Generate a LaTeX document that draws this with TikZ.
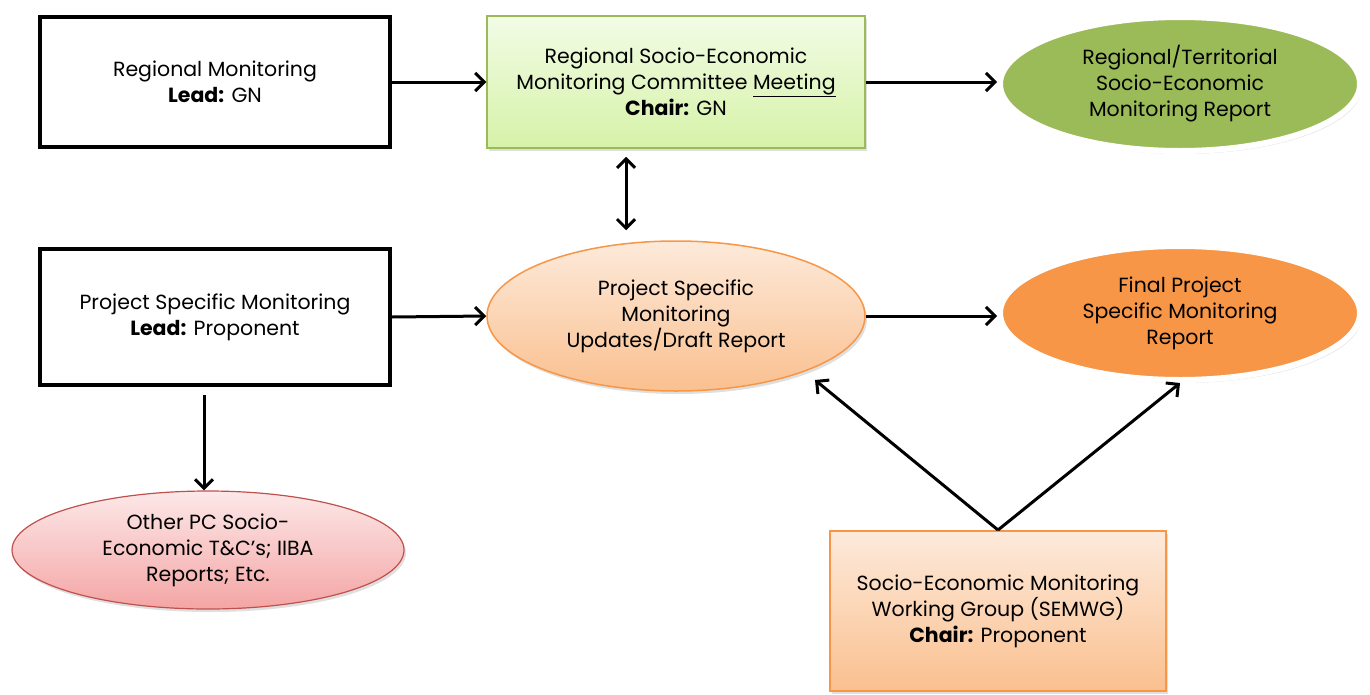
\documentclass[tikz,border=0pt]{standalone}
\usepackage{fontspec}
\setmainfont{Poppins}
\usepackage{tikz}
\usetikzlibrary{arrows.meta,positioning,calc,shapes.geometric,shadows}
\definecolor{MeetTop}{HTML}{F2FCE6}
\definecolor{MeetBottom}{HTML}{D6F2A8}
\definecolor{MeetLine}{HTML}{9BBB59}
\definecolor{RegGreen}{HTML}{9BBB59}
\definecolor{PeachTop}{HTML}{FDEADB}
\definecolor{PeachBottom}{HTML}{FAC08F}
\definecolor{PeachLine}{HTML}{F79646}
\definecolor{FinalOrange}{HTML}{F79646}
\definecolor{PinkTop}{HTML}{FDE8E8}
\definecolor{PinkBottom}{HTML}{F4A5A5}
\definecolor{PinkLine}{HTML}{C0504D}

\begin{document}
\begin{tikzpicture}[x=1pt,y=-1pt,font=\fontsize{20.5}{26}\selectfont,
  barb/.tip={Straight Barb[length=9pt,width=18pt,line width=3pt]},
  leadbox/.style={draw,line width=3.5pt,minimum width=350pt,minimum height=130pt,align=center},
  softshadow/.style={drop shadow={opacity=0.25,shadow xshift=2pt,shadow yshift=-3pt}},
  ringoval/.style={ellipse,draw=white,line width=6pt,align=center,inner sep=0pt,softshadow},
  flow/.style={line width=3pt,-barb}]
  \useasboundingbox (0,0) rectangle (1370,694);
  % top row
  \node[leadbox] (regmon) at (215,82) {Regional Monitoring\\\textbf{Lead:} GN};
  \node[draw=MeetLine,line width=1.5pt,top color=MeetTop,bottom color=MeetBottom,minimum width=378pt,minimum height=132pt,align=center,softshadow] (meet) at (676,82)
    {Regional Socio-Economic\\Monitoring Committee \underline{Meeting}\\\textbf{Chair:} GN};
  \node[ringoval,fill=RegGreen,minimum width=360pt,minimum height=134pt] (regrep) at (1180,84)
    {Regional/Territorial\\Socio-Economic\\Monitoring Report};
  % middle row
  \node[leadbox,minimum height=136pt] (psmon) at (215,317) {Project Specific Monitoring\\\textbf{Lead:} Proponent};
  \node[ellipse,draw=PeachLine,line width=1.5pt,top color=PeachTop,bottom color=PeachBottom,minimum width=378pt,minimum height=150pt,align=center,inner sep=0pt,softshadow] (update) at (676,316)
    {Project Specific\\Monitoring\\Updates/Draft Report};
  \node[ringoval,fill=FinalOrange,minimum width=360pt,minimum height=134pt] (final) at (1180,313)
    {Final Project\\Specific Monitoring\\Report};
  % bottom row
  \node[ellipse,draw=PinkLine,line width=1.2pt,top color=PinkTop,bottom color=PinkBottom,minimum width=392pt,minimum height=118pt,align=center,inner sep=0pt,softshadow] (other) at (208,550)
    {Other PC Socio-\\Economic T\&C’s; IIBA\\Reports; Etc.};
  \node[draw=PeachLine,line width=2pt,top color=PeachTop,bottom color=PeachBottom,minimum width=336pt,minimum height=160pt,align=center,softshadow] (semwg) at (998,611)
    {Socio-Economic Monitoring\\Working Group (SEMWG)\\\textbf{Chair:} Proponent};
  % free ends
  \coordinate (meetlink) at ($(meet.south)+(-50,8)$);
  \coordinate (updlink) at ($(update.north)+(-50,-10)$);
  \coordinate (updcorner) at (815,380);
  \coordinate (psdown) at ($(psmon.south)+(-11,8)$);
  % connectors
  \draw[flow] (regmon.east) -- (meet.west);
  \draw[flow] (meet.east) -- (regrep.west |- meet.east);
  \draw[flow,barb-barb] (meetlink) -- (updlink);
  \draw[flow] (psmon.east) -- (update.west);
  \draw[flow] (update.east) -- (final.west |- update.east);
  \draw[flow] (psdown) -- (psdown |- other.north);
  \draw[flow] (semwg.north) -- (updcorner);
  \draw[flow] (semwg.north) -- (final.south);
\end{tikzpicture}
\end{document}
